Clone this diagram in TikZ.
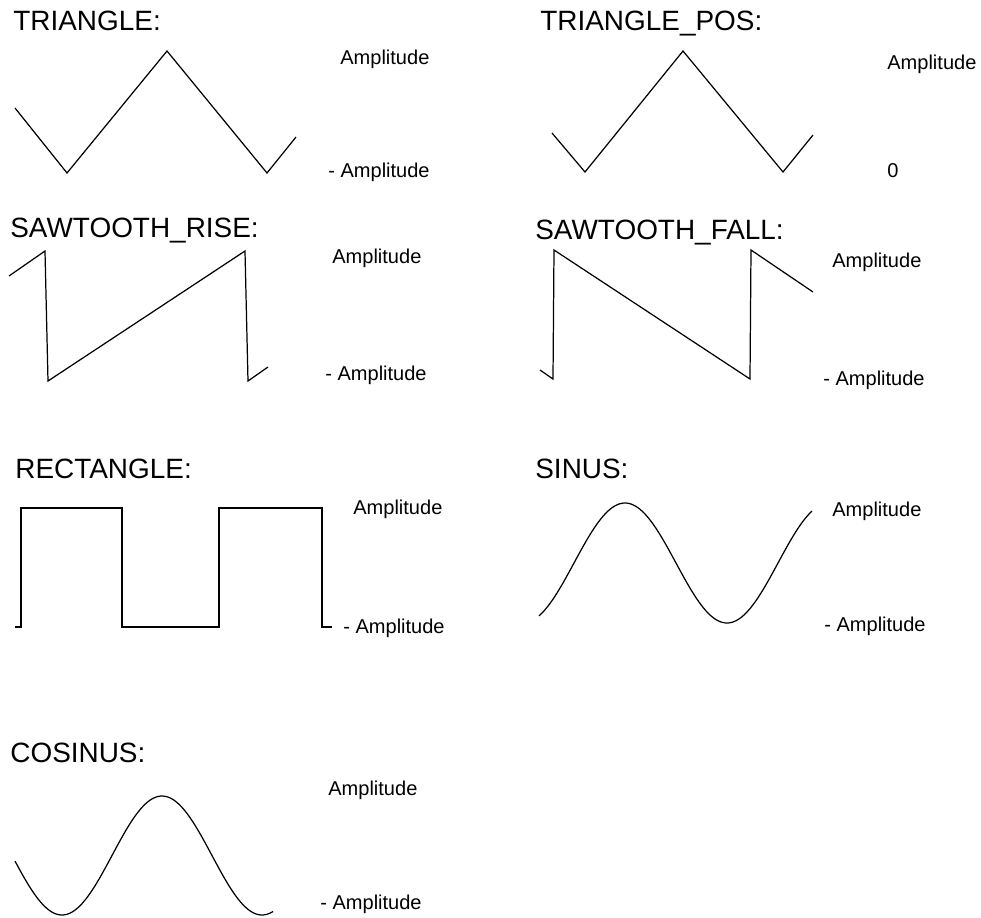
\documentclass[tikz,border=0pt]{standalone}
\usepackage{fontspec}
\setmainfont{Liberation Sans}
\usepackage{tikz}
\usetikzlibrary{positioning}

\begin{document}
\begin{tikzpicture}[
  x=0.02cm, y=-0.02cm,
  head/.style={anchor=base west, inner sep=0pt, font=\fontsize{15.9}{19}\selectfont},
  lvl/.style={anchor=base west, inner sep=0pt, font=\fontsize{11.4}{13}\selectfont},
  wave/.style={draw=black, line width=0.7pt, line join=miter},
  edge/.style={draw=black, line width=1.1pt, line join=miter},
]
\useasboundingbox (0,0) rectangle (981,917);

\node[head] (tri)    at (13,30)   {TRIANGLE:};
\node[head] (tripos) at (540,30)  {TRIANGLE\_POS:};
\node[head] (rise)   at (10,237)  {SAWTOOTH\_RISE:};
\node[head] (fall)   at (535,239) {SAWTOOTH\_FALL:};
\node[head] (rect)   at (15,478)  {RECTANGLE:};
\node[head] (sinus)  at (535,478) {SINUS:};
\node[head] (cosin)  at (10,762)  {COSINUS:};

\node[lvl] (tri-hi)    at (340,64)  {Amplitude};
\node[lvl] (tri-lo)    at (328,177) {- Amplitude};
\node[lvl] (tripos-hi) at (887,69)  {Amplitude};
\node[lvl] (tripos-lo) at (887,177) {0};
\node[lvl] (rise-hi)   at (332,263) {Amplitude};
\node[lvl] (rise-lo)   at (325,380) {- Amplitude};
\node[lvl] (fall-hi)   at (832,267) {Amplitude};
\node[lvl] (fall-lo)   at (823,385) {- Amplitude};
\node[lvl] (rect-hi)   at (353,514) {Amplitude};
\node[lvl] (rect-lo)   at (343,633) {- Amplitude};
\node[lvl] (sinus-hi)  at (832,516) {Amplitude};
\node[lvl] (sinus-lo)  at (824,631) {- Amplitude};
\node[lvl] (cosin-hi)  at (328,795) {Amplitude};
\node[lvl] (cosin-lo)  at (320,909) {- Amplitude};

\draw[wave] (15,108) -- (67,173) -- (167,51) -- (267,173) -- (296,137);
\draw[wave] (552,133) -- (585,172) -- (683,51) -- (783,172) -- (813,135);
\draw[wave] (9,276) -- (45,251) -- (48,381) -- (245,251) -- (248,381) -- (268,367);
\draw[wave] (540,370) -- (553,379) -- (554,250) -- (750,379) -- (751,250) -- (813,292);
\draw[edge] (15,627) -- (21,627) -- (21,508) -- (122,508) -- (122,627) -- (219,627)
  -- (219,508) -- (322,508) -- (322,627) -- (332,627);
\draw[wave] plot[domain=539:812, samples=120, smooth] (\x, {563-60*cos((\x-625)*1.7647)});
\draw[wave] plot[domain=15:273, samples=120, smooth] (\x, {855.5-59.5*cos((\x-162)*1.8)});

\end{tikzpicture}
\end{document}
